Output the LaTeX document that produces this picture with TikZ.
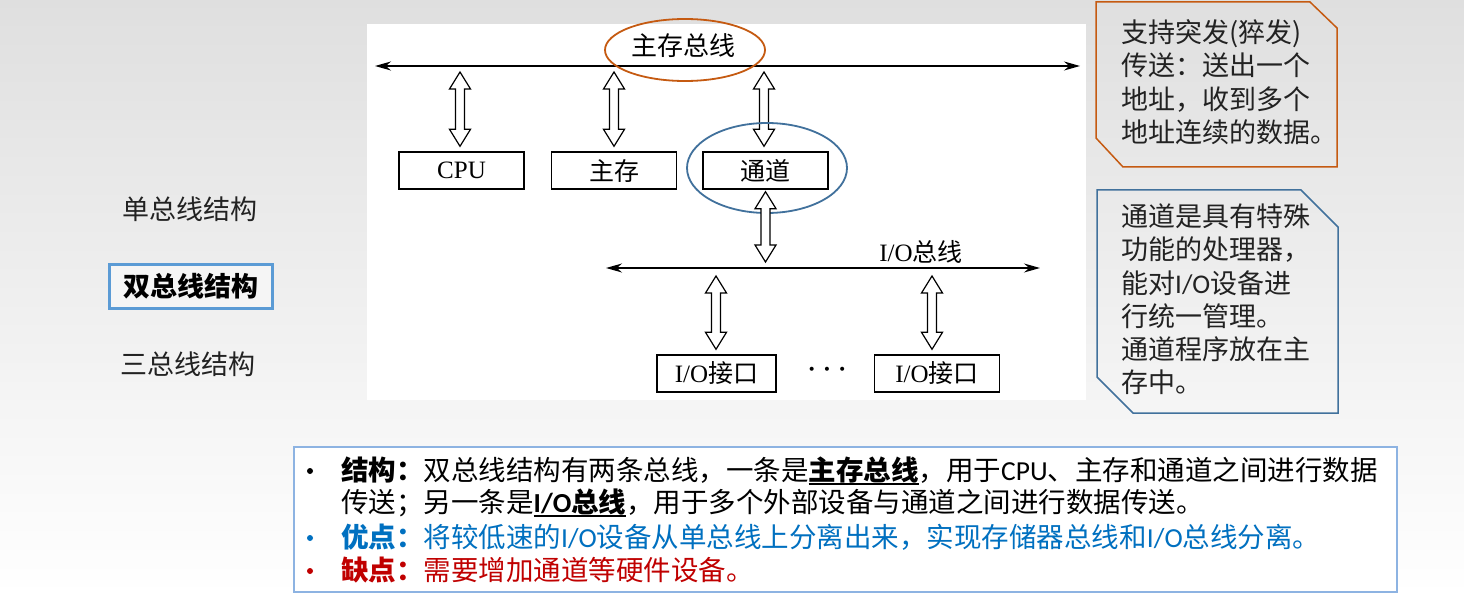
\documentclass[tikz,border=0pt]{standalone}
\usepackage{fontspec}
\setmainfont{Noto Sans CJK SC}
\newfontfamily\timesf{Liberation Serif}
\newfontfamily\calib{Carlito}
\usetikzlibrary{arrows.meta,calc}
\definecolor{org}{HTML}{C55A11}
\definecolor{stb}{HTML}{41719C}
\definecolor{bl}{HTML}{0070C0}
\definecolor{rd}{HTML}{C00000}
\definecolor{frm}{HTML}{8DB3E2}
\definecolor{sel}{HTML}{5B9BD5}
\definecolor{txt}{HTML}{222222}
\newcommand\fsz[1]{\fontsize{#1}{#1}\selectfont}
\newcommand\myul[1]{\setbox0\hbox{#1}\rlap{\rule[-5pt]{\wd0}{2.5pt}}\box0}
\tikzset{
  blk/.style={draw, line width=1.4pt, minimum width=125pt, minimum height=37pt, inner sep=0pt, font=\fsz{25}},
  bus/.style={line width=1.4pt, {Stealth[length=16pt,width=9pt]}-{Stealth[length=16pt,width=9pt]}},
  hollow/.style 2 args={draw, fill=white, line width=1.2pt, line join=miter,
    to path={let \p1=(\tikztostart), \p2=(\tikztotarget) in
      (\x1,\y1-#1) -- (\x1+10.5pt,\y1-#1-17pt) -- (\x1+4.5pt,\y1-#1-17pt) --
      (\x1+4.5pt,\y2+#2+17pt) -- (\x1+10.5pt,\y2+#2+17pt) -- (\x1,\y2+#2) --
      (\x1-10.5pt,\y2+#2+17pt) -- (\x1-4.5pt,\y2+#2+17pt) --
      (\x1-4.5pt,\y1-#1-17pt) -- (\x1-10.5pt,\y1-#1-17pt) -- cycle}},
  side/.style={font=\fsz{27}, text=txt, inner sep=0pt},
  callt/.style={font=\fontsize{27}{33.3}\selectfont, text=txt, align=left, anchor=north west, inner sep=0pt},
  line/.style={font=\fsz{27.5}, anchor=base west, inner sep=0pt},
  bul/.style={circle, inner sep=0pt, minimum size=6pt}
}
\begin{document}
\begin{tikzpicture}[x=1pt,y=-1pt]
\shade[top color=gray!25, bottom color=white] (0,0) rectangle (1464,596);
\useasboundingbox (0,0) rectangle (1464,596);
% diagram panel
\fill[white] (367,24) rectangle (1086,400);
% main bus
\coordinate (mL) at (375,66);
\coordinate (mR) at (1080,66);
\draw[bus] (mL) -- (mR);
\coordinate (m1) at (460,66);
\coordinate (m2) at (614,66);
\coordinate (m3) at (764,66);
\node[font=\fsz{26}, inner sep=0pt] (mlab) at (683,46) {主存总线};
\draw[org, line width=1.8pt] (685,50) ellipse [x radius=80, y radius=31];
% boxes
\node[blk] (cpu) at (461.5,170.5) {\timesf CPU};
\node[blk] (zc) at (614,170.5) {主存};
\node[blk] (td) at (765.5,170.5) {通道};
\draw[hollow={6pt}{5pt}] (m1) to (cpu.north);
\draw[hollow={6pt}{5pt}] (m2) to (zc.north);
\draw[hollow={6pt}{5pt}] (m3) to (td.north);
\draw[stb, line width=1.8pt] (767,168) ellipse [x radius=80, y radius=45];
% I/O bus
\coordinate (iL) at (606,268);
\coordinate (iR) at (1040,268);
\draw[bus] (iL) -- (iR);
\coordinate (ib0) at (764,268);
\coordinate (ib1) at (716,268);
\coordinate (ib2) at (932,268);
\node[font=\fsz{25}, inner sep=0pt] (iolab) at (921,252) {{\timesf I/O}总线};
\draw[hollow={2pt}{6pt}] (td.south) to (ib0);
\node[blk, minimum width=119pt] (io1) at (716.5,373.5) {{\timesf I/O}接口};
\node[blk] (io2) at (937,373.5) {{\timesf I/O}接口};
\node[font=\timesf\fsz{34}, inner sep=0pt] (dots) at (827,374) {·\hspace{4pt}·\hspace{4pt}·};
\draw[hollow={8pt}{5pt}] (ib1) to (io1.north);
\draw[hollow={8pt}{5pt}] (ib2) to (io2.north);
% left menu
\node[side] (s1) at (190,209) {单总线结构};
\node[draw=sel, line width=3pt, fill=gray!8, minimum width=163pt, minimum height=44pt, font=\fsz{27}\bfseries, inner sep=0pt] (s2) at (190.5,286) {双总线结构};
\node[side] (s3) at (188,364) {三总线结构};
% callouts
\draw[org, line width=1.5pt] (1096,2) -- (1310,2) -- (1337,28) -- (1337,167) -- (1123,167) -- (1096,138) -- cycle;
\node[callt] (c1) at (1121,19.5) {支持突发(猝发)\\传送：送出一个\\地址，收到多个\\地址连续的数据。};
\draw[stb, line width=1.5pt] (1097,190) -- (1301,190) -- (1338,227) -- (1338,413) -- (1133,413) -- (1097,377) -- cycle;
\node[callt] (c2) at (1121,203.5) {通道是具有特殊\\功能的处理器，\\能对{\calib I/O}设备进\\行统一管理。\\通道程序放在主\\存中。};
% bottom text box
\draw[frm, line width=1.5pt, fill=white] (294,447) rectangle (1397,592);
\node[bul, fill=black] (b1) at (310,471) {};
\node[line, text=black] (l1) at (341,480) {{\bfseries 结构：}双总线结构有两条总线，一条是\myul{\bfseries 主存总线}，用于{\calib CPU}、主存和通道之间进行数据};
\node[line, text=black] (l2) at (341,512) {传送；另一条是\myul{\bfseries{\calib I/O}总线}，用于多个外部设备与通道之间进行数据传送。};
\node[bul, fill=bl] (b3) at (310,538) {};
\node[line, text=bl] (l3) at (341,547) {{\bfseries 优点：}将较低速的{\calib I/O}设备从单总线上分离出来，实现存储器总线和{\calib I/O}总线分离。};
\node[bul, fill=rd] (b4) at (310,571) {};
\node[line, text=rd] (l4) at (341,580) {{\bfseries 缺点：}需要增加通道等硬件设备。};
\end{tikzpicture}
\end{document}
